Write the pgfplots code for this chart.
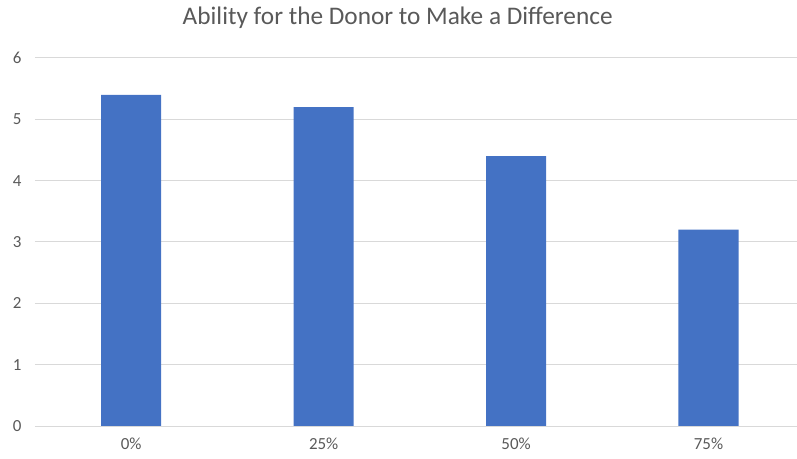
\documentclass[border=0pt]{standalone}
\usepackage{pgfplots}
\pgfplotsset{compat=1.18}
\usepackage{fontspec}
\setmainfont{Carlito}
\definecolor{barblue}{HTML}{4472C4}
\definecolor{gridgray}{HTML}{D9D9D9}
\definecolor{txtgray}{HTML}{595959}
\begin{document}
\begin{tikzpicture}
\begin{axis}[
  scale only axis,
  width=762bp, height=368bp,
  xmin=-0.5, xmax=3.46,
  ymin=0, ymax=6,
  ytick={0,1,2,3,4,5,6},
  xtick={0,1,2,3},
  xticklabels={0\%,25\%,50\%,75\%},
  axis lines*=left,
  axis line style={draw=none},
  ymajorgrids,
  grid style={gridgray, line width=1bp},
  major tick length=0pt,
  tick style={draw=none},
  /pgf/number format/assume math mode=true,
  ticklabel style={font=\fontsize{17}{17}\selectfont, text=txtgray},
  yticklabel style={xshift=-10bp},
  xticklabel style={yshift=-8bp},
  clip=false,
  title={Ability for the Donor to Make a Difference},
  title style={at={(rel axis cs:0.476,1.092)}, anchor=center, font=\fontsize{25.4}{25.4}\selectfont, text=txtgray},
]
\addplot[ybar, bar width=0.312, fill=barblue, draw=none, bar shift=0pt] coordinates {(0,5.4) (1,5.2) (2,4.4) (3,3.2)};
\draw[gridgray, line width=1bp] (rel axis cs:0,0) -- (rel axis cs:1,0);
\coordinate (sw) at (rel axis cs:0,0);
\coordinate (ne) at (rel axis cs:1,1);
\end{axis}
\pgfresetboundingbox
\path ([shift={(-35bp,-33bp)}]sw) rectangle ([shift={(0bp,58bp)}]ne);
\end{tikzpicture}
\end{document}
